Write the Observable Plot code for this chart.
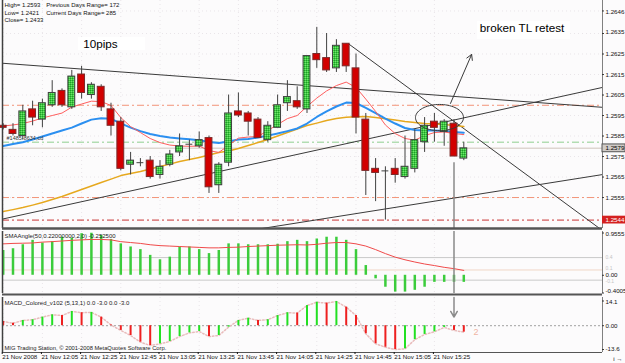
<!DOCTYPE html>
<html><head><meta charset="utf-8">
<script src="https://cdn.jsdelivr.net/npm/d3@7"></script>
<script src="https://cdn.jsdelivr.net/npm/@observablehq/plot@0.6"></script>
<style>
html,body{margin:0;padding:0;background:#fff;}
#chart{position:relative;width:625px;height:363px;overflow:hidden;background:#fcfbfc;}
#chart svg{position:absolute;left:0;}
</style></head><body><div id="chart"></div>
<script>
// ---------- DATA ----------
// 5-minute candles, 21 Nov 2008 11:45 .. 15:40 (index 0..47)
const candleOpen  = [1.2590,1.2588,1.2585,1.2598,1.2593,1.2600,1.2607,1.2599,1.2615,1.2605,1.2609,1.2598,1.2592,1.2571,1.2572,1.2573,1.2566,1.2571,1.2577,1.2581,1.2580,1.2584,1.2561,1.2572,1.2597,1.2596,1.2593,1.2583,1.2589,1.2601,1.2602,1.2598,1.2625,1.2623,1.2618,1.2630,1.2618,1.2593,1.2569,1.2568,1.2569,1.2565,1.2569,1.2582,1.2592,1.2587,1.2591,1.2574];
const candleHigh  = [1.2591,1.2591,1.2600,1.2602,1.2603,1.2612,1.2608,1.2617,1.2619,1.2611,1.2610,1.2601,1.2594,1.2577,1.2574,1.2575,1.2573,1.2578,1.2586,1.2583,1.2587,1.2585,1.2572,1.2605,1.2606,1.2597,1.2594,1.2592,1.2605,1.2612,1.2609,1.2624,1.2638,1.2635,1.2632,1.2630,1.2625,1.2596,1.2574,1.2570,1.2574,1.2585,1.2588,1.2594,1.2596,1.2593,1.2593,1.2582];
const candleLow   = [1.2588,1.2585,1.2583,1.2590,1.2589,1.2599,1.2599,1.2598,1.2603,1.2603,1.2597,1.2585,1.2568,1.2566,1.2570,1.2564,1.2564,1.2570,1.2575,1.2573,1.2579,1.2557,1.2557,1.2570,1.2594,1.2585,1.2584,1.2582,1.2589,1.2597,1.2598,1.2596,1.2618,1.2616,1.2616,1.2616,1.2586,1.2556,1.2553,1.2544,1.2562,1.2564,1.2567,1.2577,1.2582,1.2580,1.2575,1.2573];
const candleClose = [1.2589,1.2586,1.2597,1.2594,1.2601,1.2606,1.2600,1.2614,1.2606,1.2610,1.2599,1.2590,1.2569,1.2573,1.2572,1.2565,1.2570,1.2576,1.2580,1.2581,1.2583,1.2560,1.2571,1.2596,1.2595,1.2592,1.2584,1.2590,1.2600,1.2604,1.2599,1.2624,1.2622,1.2617,1.2629,1.2619,1.2594,1.2568,1.2567,1.2568,1.2566,1.2570,1.2583,1.2590,1.2589,1.2592,1.2575,1.2579];

// moving averages on the price chart
const maFast = [1.25899,1.25904,1.25911,1.25923,1.25938,1.25950,1.25962,1.25991,1.26006,1.26020,1.26018,1.25999,1.25940,1.25896,1.25867,1.25838,1.25818,1.25806,1.25801,1.25800,1.25801,1.25779,1.25770,1.25804,1.25840,1.25845,1.25848,1.25877,1.25906,1.25935,1.25950,1.25994,1.26035,1.26070,1.26096,1.26113,1.26087,1.26030,1.25970,1.25904,1.25862,1.25838,1.25830,1.25852,1.25867,1.25870,1.25862,1.25857];
const maMid  = [1.25801,1.25811,1.25820,1.25833,1.25848,1.25862,1.25877,1.25891,1.25911,1.25930,1.25937,1.25934,1.25912,1.25891,1.25874,1.25860,1.25850,1.25843,1.25838,1.25834,1.25830,1.25821,1.25816,1.25823,1.25833,1.25835,1.25843,1.25852,1.25862,1.25874,1.25887,1.25911,1.25943,1.25970,1.25994,1.26013,1.26011,1.25987,1.25962,1.25935,1.25911,1.25889,1.25879,1.25877,1.25877,1.25874,1.25870,1.25866];
const maSlow = [1.25482,1.25491,1.25501,1.25513,1.25526,1.25540,1.25555,1.25572,1.25589,1.25606,1.25623,1.25640,1.25657,1.25667,1.25677,1.25689,1.25701,1.25713,1.25726,1.25735,1.25745,1.25757,1.25770,1.25777,1.25789,1.25804,1.25818,1.25833,1.25850,1.25867,1.25884,1.25901,1.25913,1.25926,1.25935,1.25942,1.25944,1.25945,1.25940,1.25934,1.25928,1.25921,1.25916,1.25911,1.25909,1.25906,1.25901,1.25896];

// SMAAngle indicator
const smaAngle = [0.56,0.60,0.69,0.79,0.73,0.76,0.86,0.84,0.94,0.95,0.90,0.81,0.71,0.64,0.58,0.45,0.35,0.41,0.64,0.64,0.58,0.49,0.56,0.71,0.71,0.69,0.69,0.69,0.70,0.76,0.79,0.76,0.82,0.86,0.86,0.79,0.58,0.22,-0.08,-0.27,-0.38,-0.38,-0.34,-0.27,-0.16,-0.16,-0.16,-0.16];
const smaAngleLine = [0.71,0.72,0.725,0.73,0.75,0.76,0.775,0.79,0.80,0.81,0.81,0.80,0.76,0.74,0.72,0.69,0.67,0.66,0.65,0.64,0.63,0.62,0.62,0.63,0.635,0.65,0.66,0.67,0.68,0.685,0.69,0.685,0.70,0.725,0.74,0.74,0.71,0.66,0.58,0.49,0.41,0.35,0.30,0.255,0.22,0.18,0.15,0.11];
const smaLevels = [0.40, 0.12, -0.11];
const smaTicks = [0.9555, 0, -0.4005];
const smaTickLabels = ["0.9555", "0.00", "-0.4005"];

// MACD_Colored histogram
const macd = [2.4,1.4,3.0,3.4,4.9,6.2,5.8,8.1,7.4,7.6,4.9,0.4,-2.7,-5.6,-9.4,-11.3,-10.4,-9.0,-6.2,-4.1,-3.3,-6.2,-5.6,-0.8,3.0,4.3,3.0,3.4,5.8,7.4,7.2,11.5,13.4,12.9,13.8,10.6,5.8,-4.6,-10.3,-12.3,-13.6,-13.2,-8.0,-5.0,-3.5,-1.0,-2.7,-3.7];
const macdTicks = [14.1, 0, -13.6];
const macdTickLabels = ["14.1", "0.00", "-13.6"];

// axes
const priceTicks = [1.2646,1.2635,1.2625,1.2615,1.2605,1.2595,1.2585,1.2575,1.2565,1.2555];
const bidPrice = 1.2579;
const lowMarker = 1.2544;
const levelPrices = [1.2600, 1.2582, 1.2555];
const timeTickIndex = [0,4,8,12,16,20,24,28,32,36,40,44];
const timeLabels = ["21 Nov 2008","21 Nov 12:05","21 Nov 12:25","21 Nov 12:45","21 Nov 13:05","21 Nov 13:25","21 Nov 13:45","21 Nov 14:05","21 Nov 14:25","21 Nov 14:45","21 Nov 15:05","21 Nov 15:25"];

// trend lines [index1, price1, index2, price2]
const trendLines = [
  [-0.07, 1.26205, 61.15, 1.25990],
  [-0.07, 1.25445, 61.15, 1.26087],
  [25.74, 1.25394, 61.15, 1.25662],
  [35.23, 1.26300, 61.15, 1.25389]
];
// annotations
const retestEllipse = {cx: 44.52, cy: 1.25940, rx: 2.45, ry: 0.00064};
const upArrow = [45.64, 1.26009, 47.8, 1.26248];
const downArrowIndex = 46, downArrowFrom = 1.2572, downArrowTo = 4.9;
const infoLines = ["High= 1.2593", "Previous Days Range= 172", "Low= 1.2421", "Current Days Range= 285", "Close= 1.2433"];

// ---------- CHART ----------
const W = 625;
const xDom = [-0.0714, 61.153];
const yMain = [1.25399, 1.26511];
const N = candleOpen.length;
const candles = d3.range(N).map(i => ({i, o: candleOpen[i], h: candleHigh[i], l: candleLow[i], c: candleClose[i]}));
const bull = candles.filter(d => d.c > d.o), bear = candles.filter(d => d.c < d.o), doji = candles.filter(d => d.c === d.o);
const series = arr => arr.map((v, i) => ({i, v}));
const font = "Liberation Sans, Arial, sans-serif";
const baseStyle = {background: "transparent", fontFamily: font, fontSize: "6px", color: "#111", overflow: "visible"};
const small = 6, axisFs = 6.2;
const txt = (s, dx, dy, o = {}) => Plot.text([s], {frameAnchor: "top-left", dx, dy, lineAnchor: "middle", textAnchor: "start", fontSize: small, fill: "#111", ...o});
// right-hand scale: tick marks plus one label per tick (with a small vertical nudge like the terminal draws)
const rightScale = (ticks, labels, nudges) => [
  Plot.ruleY(ticks, {x1: xDom[1], x2: xDom[1] + 0.2, stroke: "#333"}),
  ...ticks.map((t, k) => Plot.text([t], {x: xDom[1], y: d => d, text: () => labels[k], dx: 3, dy: nudges[k] || 0, textAnchor: "start", lineAnchor: "middle", fontSize: axisFs, fill: "#111"}))
];
const bw = 0.35;
const ell = retestEllipse;
const ellipsePts = d3.range(0, 73).map(k => { const t = k / 72 * 2 * Math.PI; return {x: ell.cx + ell.rx * Math.cos(t), y: ell.cy + ell.ry * Math.sin(t)}; });
const dashDot = "7,3,2,3";
const boxCh = {x1: d => d[0], y1: d => d[1], x2: d => d[2], y2: d => d[3]};

const main = Plot.plot({
  width: W, height: 231, marginLeft: 2, marginRight: 23, marginTop: 0, marginBottom: 3,
  x: {domain: xDom, axis: null}, y: {domain: yMain, axis: null}, style: baseStyle,
  marks: [
    Plot.ruleY(priceTicks, {stroke: "#e9e5e9", strokeDasharray: "1,3"}),
    Plot.ruleX(timeTickIndex, {stroke: "#e9e5e9", strokeDasharray: "1,3"}),
    Plot.ruleY([levelPrices[0]], {stroke: "#f29478", strokeDasharray: dashDot}),
    Plot.ruleY([levelPrices[1]], {stroke: "#8fcf8f", strokeDasharray: dashDot}),
    Plot.ruleY([levelPrices[2]], {stroke: "#f29478", strokeDasharray: dashDot}),
    Plot.ruleY([bidPrice], {stroke: "#ddd6d0", strokeWidth: 1.5}),
    Plot.ruleY([lowMarker], {stroke: "#c83232", strokeDasharray: dashDot}),
    Plot.link(trendLines, {...boxCh, stroke: "#3a3a3a", strokeWidth: 1, clip: true}),
    Plot.line(series(maSlow), {x: "i", y: "v", stroke: "#e6a81e", strokeWidth: 1.5}),
    Plot.line(series(maMid), {x: "i", y: "v", stroke: "#2b8ff0", strokeWidth: 2}),
    Plot.line(series(maFast), {x: "i", y: "v", stroke: "#ff5e5e", strokeWidth: 1}),
    Plot.ruleX([downArrowIndex], {y1: downArrowFrom, y2: yMain[0], stroke: "#8a8a8a", strokeWidth: 1.5}),
    Plot.ruleX(candles, {x: "i", y1: "l", y2: "h", stroke: "#404040", strokeWidth: 1}),
    Plot.rect(bull, {x1: d => d.i - bw, x2: d => d.i + bw, y1: "o", y2: "c", fill: "url(#gchk)", stroke: "#404040", strokeWidth: 1}),
    Plot.rect(bear, {x1: d => d.i - bw, x2: d => d.i + bw, y1: "o", y2: "c", fill: "#d20000", stroke: "#7a2a2a", strokeWidth: 1}),
    Plot.ruleY(doji, {y: "o", x1: d => d.i - bw, x2: d => d.i + bw, stroke: "#404040", strokeWidth: 1}),
    Plot.line(ellipsePts, {x: "x", y: "y", stroke: "#3a3a3a", strokeWidth: 1}),
    Plot.arrow([upArrow], {...boxCh, stroke: "#3a3a3a", strokeWidth: 1, headLength: 9}),
    Plot.rect([[7.68, 1.26330, 14.52, 1.26267]], {...boxCh, fill: "#ffffff"}),
    Plot.rect([[48.4, 1.26409, 57.9, 1.26321]], {...boxCh, fill: "#ffffff"}),
    Plot.text(["10pips"], {x: 8.16, y: 1.26296, textAnchor: "start", lineAnchor: "middle", fontSize: 11.7, fill: "#000"}),
    Plot.text(["broken TL retest"], {x: 48.63, y: 1.26374, textAnchor: "start", lineAnchor: "middle", fontSize: 11.7, fill: "#000"}),
    Plot.text(["#1485-8634,cd"], {x: 0.34, y: 1.25839, textAnchor: "start", lineAnchor: "middle", fontSize: 5.5, fill: "#333"}),
    txt(infoLines[0], 2, 5), txt(infoLines[1], 43.7, 5),
    txt(infoLines[2], 2, 12.7), txt(infoLines[3], 43.7, 12.7),
    txt(infoLines[4], 2, 20),
    Plot.ruleX([xDom[0]], {stroke: "#404040", strokeWidth: 1.5}),
    Plot.ruleX([xDom[1]], {stroke: "#808080"}),
    ...rightScale(priceTicks, priceTicks.map(d => d.toFixed(4)), [1.5, -1]),
    Plot.rect([bidPrice], {x1: xDom[1], x2: xDom[1] + 2.35, y1: d => d - 0.00019, y2: d => d + 0.00019, fill: "#cfcac6", stroke: "#555"}),
    Plot.text([bidPrice], {x: xDom[1], y: d => d, text: d => d.toFixed(4), dx: 3, textAnchor: "start", fontSize: axisFs, fill: "#000"}),
    Plot.rect([lowMarker], {x1: xDom[1], x2: xDom[1] + 2.35, y1: d => d - 0.00019, y2: d => d + 0.00019, fill: "#d42020"}),
    Plot.text([lowMarker], {x: xDom[1], y: d => d, text: d => d.toFixed(4), dx: 3, textAnchor: "start", fontSize: axisFs, fill: "#fff"}),
    Plot.ruleY([yMain[0]], {stroke: "#555", strokeWidth: 2.5})
  ]
});
const ns = "http://www.w3.org/2000/svg";
const defs = document.createElementNS(ns, "defs");
defs.innerHTML = '<pattern id="gchk" width="2" height="2" patternUnits="userSpaceOnUse"><rect width="2" height="2" fill="#3fcb3f"/><rect width="1" height="1" fill="#1f9a2a"/><rect x="1" y="1" width="1" height="1" fill="#6fe06f"/></pattern>';
main.insertBefore(defs, main.firstChild);

const smaDom = [-0.4117, 0.9894];
const smaPane = Plot.plot({
  width: W, height: 64, marginLeft: 2, marginRight: 23, marginTop: 0, marginBottom: 2,
  x: {domain: xDom, axis: null}, y: {domain: smaDom, axis: null}, style: baseStyle,
  marks: [
    Plot.ruleX(timeTickIndex, {stroke: "#e9e5e9", strokeDasharray: "1,3"}),
    Plot.ruleY([smaLevels[0]], {stroke: "#c9c9c9"}),
    Plot.ruleY([smaLevels[1]], {stroke: "#f0d6c6"}),
    Plot.ruleY([smaLevels[2]], {stroke: "#c9c9c9"}),
    Plot.ruleX(series(smaAngle), {x: "i", y1: 0, y2: "v", stroke: "#3ccc3c", strokeWidth: 2.5}),
    Plot.line(series(smaAngleLine), {x: "i", y: "v", stroke: "#f04a4a", strokeWidth: 1}),
    Plot.ruleX([downArrowIndex], {stroke: "#8a8a8a", strokeWidth: 1.5}),
    txt("SMAAngle(50,0.22000000,2,0) -0.252500", 2, 5, {fill: "#222"}),
    Plot.ruleX([xDom[0]], {stroke: "#404040", strokeWidth: 1.5}),
    Plot.ruleX([xDom[1]], {stroke: "#808080"}),
    ...rightScale(smaTicks, smaTickLabels, [1.5, 0, -2]),
    Plot.text([smaLevels[0]], {x: xDom[1], y: d => d, text: d => d.toFixed(1), dx: 3, textAnchor: "start", fontSize: 5, fill: "#c4c4c4"}),
    Plot.text([smaLevels[1]], {x: xDom[1], y: d => d, text: d => d.toFixed(1), dx: 3, dy: -1.5, textAnchor: "start", fontSize: 5, fill: "#c4c4c4"}),
    Plot.text([smaLevels[2]], {x: xDom[1], y: d => d, text: d => d.toFixed(1), dx: 3, dy: 1.5, textAnchor: "start", fontSize: 5, fill: "#c4c4c4"}),
    Plot.ruleY([smaDom[0]], {stroke: "#555", strokeWidth: 2, dy: 1})
  ]
});

const macdDom = [-15.31, 16.10];
const macdData = macd.map((v, i) => ({i, v, up: i > 0 && v > macd[i - 1]}));
const macdPane = Plot.plot({
  width: W, height: 68, marginLeft: 2, marginRight: 23, marginTop: 2, marginBottom: 11,
  x: {domain: xDom, axis: null}, y: {domain: macdDom, axis: null}, style: baseStyle,
  marks: [
    Plot.ruleX(timeTickIndex, {stroke: "#e9e5e9", strokeDasharray: "1,3"}),
    Plot.ruleY([0], {stroke: "#a0a0a0", strokeDasharray: "2,2"}),
    Plot.line(macdData, {x: "i", y: "v", stroke: "#e9bcbc", strokeDasharray: "1.5,2"}),
    Plot.ruleX(macdData.filter(d => d.up), {x: "i", y1: 0, y2: "v", stroke: "#22e022", strokeWidth: 2}),
    Plot.ruleX(macdData.filter(d => !d.up), {x: "i", y1: 0, y2: "v", stroke: "#ee2020", strokeWidth: 2}),
    Plot.arrow([downArrowIndex], {x1: d => d, y1: macdDom[1], x2: d => d, y2: downArrowTo, stroke: "#8a8a8a", strokeWidth: 1.5, headLength: 7}),
    Plot.text(["2"], {x: 48, y: -3.8, fontSize: 9, fill: "#f0b4a4", textAnchor: "start"}),
    txt("MACD_Colored_v102 (5,13,1) 0.0 -3.0 0.0 -3.0", 2, 5.7, {fill: "#222"}),
    txt("MIG Trading Station, © 2001-2008 MetaQuotes Software Corp.", 2, 50.7, {fill: "#222", fontSize: 5.8}),
    Plot.ruleX([xDom[0]], {stroke: "#404040", strokeWidth: 1.5}),
    Plot.ruleX([xDom[1]], {stroke: "#808080"}),
    Plot.ruleY([macdDom[0]], {stroke: "#555"}),
    ...rightScale(macdTicks, macdTickLabels, [1, 0, 0]),
    Plot.axisX(timeTickIndex, {anchor: "bottom", tickFormat: d => timeLabels[timeTickIndex.indexOf(d)], textAnchor: "start", tickSize: 2, tickPadding: 0, dx: -1, fontSize: 6.2})
  ]
});

const chart = document.getElementById("chart");
main.style.top = "0px"; smaPane.style.top = "231px"; macdPane.style.top = "295px";
chart.append(main, smaPane, macdPane);
</script></body></html>
